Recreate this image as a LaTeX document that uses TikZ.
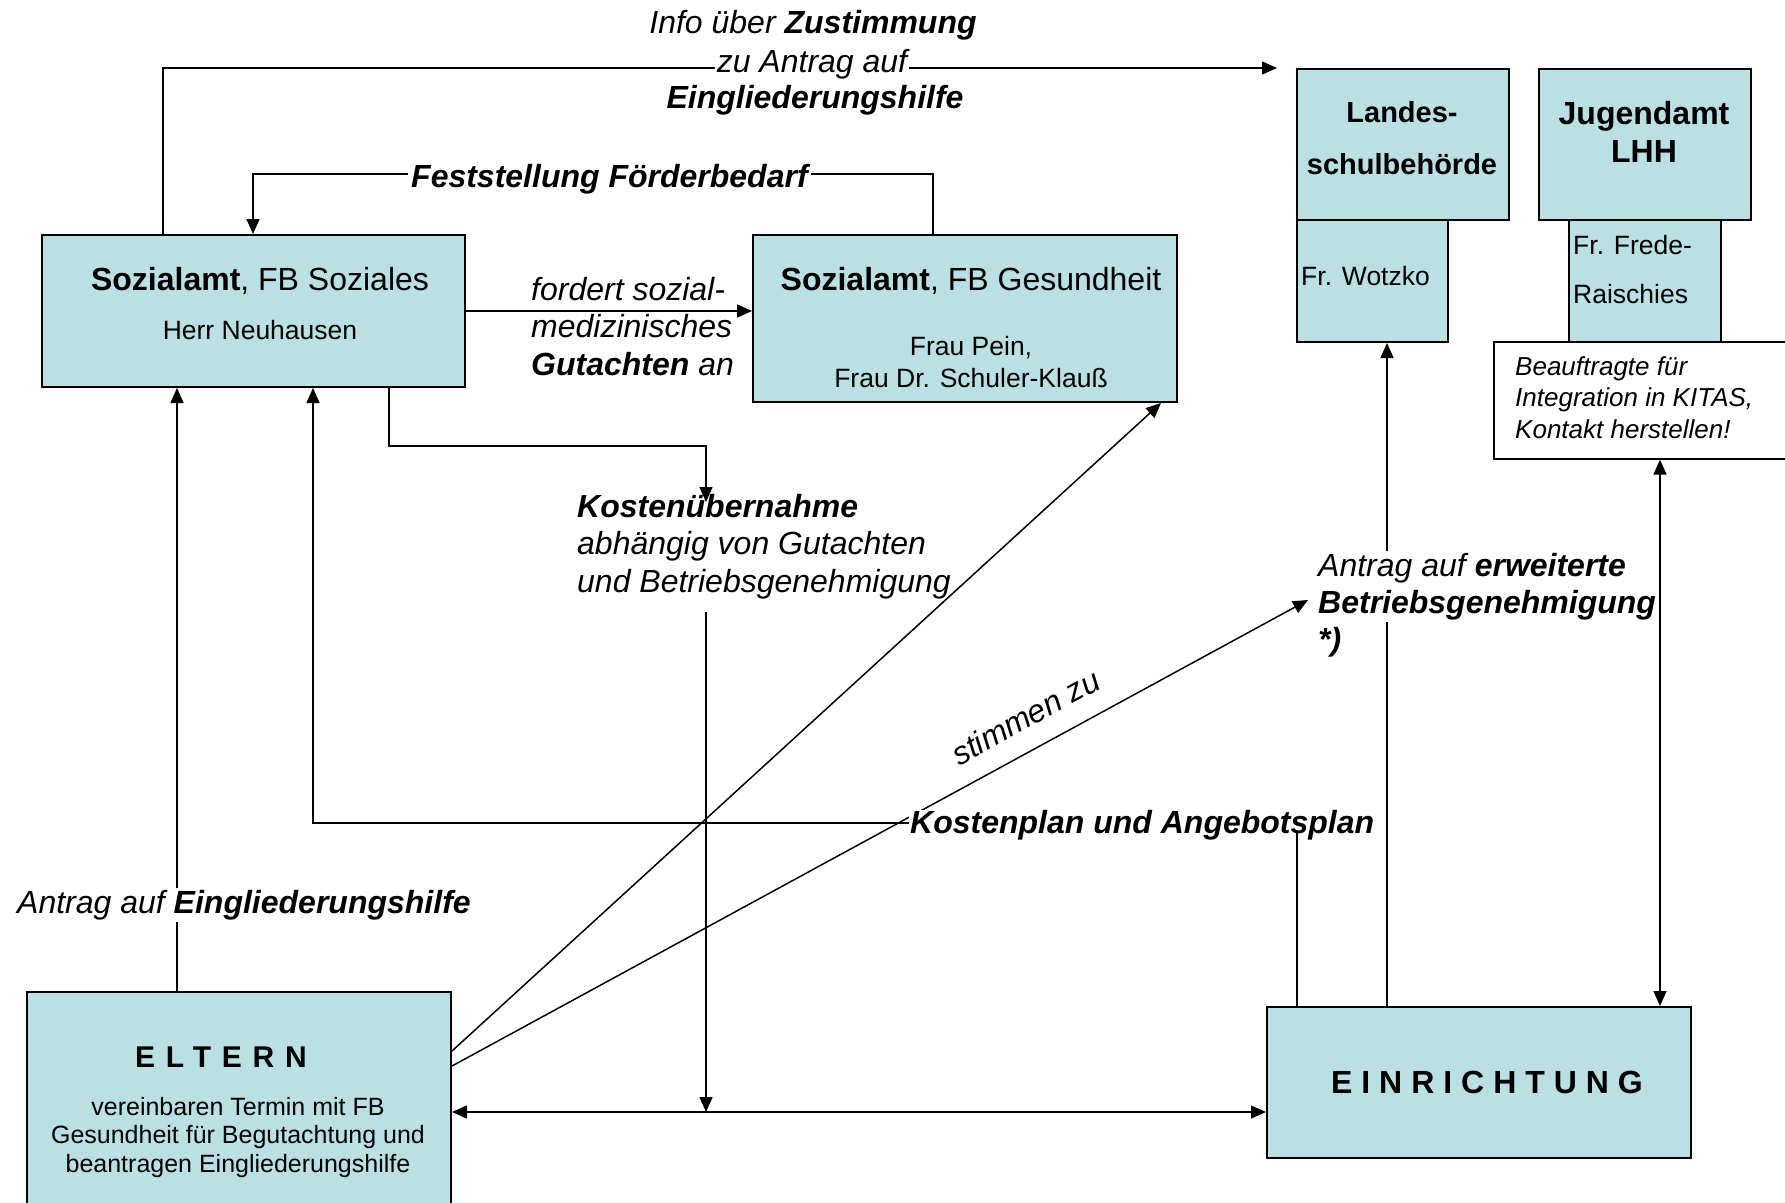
\documentclass[tikz,border=0pt]{standalone}
\usepackage{fontspec}
\setmainfont{Liberation Sans}
\usetikzlibrary{arrows.meta}
\definecolor{boxfill}{HTML}{BAE0E3}
\newcommand\myfs[2]{\fontsize{#1pt}{#2pt}\selectfont}
\begin{document}
\begin{tikzpicture}[x=1pt,y=-1pt,
  box/.style={draw=black, line width=2pt, fill=boxfill, inner sep=0pt, anchor=north west},
  wbox/.style={draw=black, line width=1.6pt, fill=white, inner sep=0pt, anchor=north west},
  conn/.style={line width=1.5pt},
  tip/.style={-{Triangle[length=15pt,width=13pt]}},
  dtip/.style={{Triangle[length=15pt,width=13pt]}-{Triangle[length=15pt,width=13pt]}},
  txt/.style={inner sep=0pt, anchor=base west, align=left},
  ctxt/.style={inner sep=0pt, anchor=base, align=center},
  big/.style={font=\myfs{32}{37.5}},
  med/.style={font=\myfs{26.5}{32}},
  itbig/.style={font=\itshape\myfs{32}{37.5}},
  wfill/.style={fill=white}
]
\useasboundingbox (0,0) rectangle (1785,1202);

% ---------- boxes ----------
\node[box, minimum width=423pt, minimum height=152pt] (sozial) at (41,234) {};
\node[box, minimum width=424pt, minimum height=167pt] (gesund) at (752,234) {};
\node[box, minimum width=212pt, minimum height=151pt] (landes) at (1296,68) {};
\node[box, minimum width=151pt, minimum height=122pt] (landes2) at (1296,219) {};
\node[box, minimum width=212pt, minimum height=151pt] (jugend) at (1538,68) {};
\node[box, minimum width=152pt, minimum height=122pt] (jugend2) at (1568,219) {};
\node[wbox, minimum width=300pt, minimum height=117pt] (beauf) at (1493,341) {};
\node[box, minimum width=424pt, minimum height=214pt] (eltern) at (26,991) {};
\node[box, minimum width=424pt, minimum height=151pt] (einr) at (1266,1006) {};

% ---------- box texts (multi-line nodes are anchored at their last baseline) ----------
\node[ctxt, big] (sozialT) at (260,290) {\textbf{Sozialamt}, FB Soziales};
\node[ctxt, med] (sozialP) at (260,339) {Herr Neuhausen};
\node[ctxt, big] (gesundT) at (971,290) {\textbf{Sozialamt}, FB Gesundheit};
\node[ctxt, med] (gesundP) at (971,387) {Frau Pein,\\Frau Dr. Schuler-Klauß};
\node[ctxt, font=\bfseries\myfs{29}{52}] (landesT) at (1402,174) {Landes-\\schulbehörde};
\node[txt, med] (landesP) at (1301,285) {Fr. Wotzko};
\node[ctxt, font=\bfseries\myfs{32}{38}] (jugendT) at (1644,162) {Jugendamt\\LHH};
\node[txt, font=\myfs{26.5}{49}] (jugendP) at (1573,303) {Fr. Frede-\\Raischies};
\node[txt, font=\itshape\myfs{26}{31.5}] (beaufT) at (1515,438) {Beauftragte für\\Integration in KITAS,\\Kontakt herstellen!};
\node[ctxt, font=\bfseries\myfs{30}{36}\addfontfeature{LetterSpace=36}] (elternT) at (221,1067) {ELTERN};
\node[ctxt, font=\myfs{25}{28.5}] (elternP) at (238,1172) {vereinbaren Termin mit FB\\Gesundheit für Begutachtung und\\beantragen Eingliederungshilfe};
\node[ctxt, font=\bfseries\myfs{32}{38}\addfontfeature{LetterSpace=28}] (einrT) at (1487,1093) {EINRICHTUNG};

% ---------- helper coordinates ----------
\coordinate (toptip) at (1277,68);
\coordinate (xtop) at (163,68);
\coordinate (f1) at (253,174);
\coordinate (f2) at (933,174);
\coordinate (k1) at (389,446);
\coordinate (k2) at (706,446);
\coordinate (k3) at (706,502);
\coordinate (k4) at (706,612);
\coordinate (bot) at (706,1112);
\coordinate (xa) at (177,0);
\coordinate (p1) at (1297,823);
\coordinate (p2) at (313,823);
\coordinate (xl) at (1387,0);
\coordinate (xj) at (1660,0);
\coordinate (a2tip) at (1308,600);

% ---------- connectors ----------
\draw[conn,tip] (sozial.north -| xtop) -- (xtop) -- (toptip);
\draw[conn,tip] (gesund.north -| f2) -- (f2) -- (f1) -- (sozial.north -| f1);
\draw[conn,tip] (sozial.east) -- (sozial.east -| gesund.west);
\draw[conn,tip] (sozial.south -| k1) -- (k1) -- (k2) -- (k3);
\draw[conn,tip] (k4) -- (bot);
\draw[conn,dtip] (eltern.east |- bot) -- (einr.west |- bot);
\draw[conn,tip] (eltern.north -| xa) -- (sozial.south -| xa);
\draw[conn,tip] (einr.north -| p1) -- (p1) -- (p2) -- (sozial.south -| p2);
\draw[conn,tip] ([yshift=-60pt]eltern.north east) -- ([xshift=-17pt]gesund.south east);
\draw[conn,tip] ([yshift=-75pt]eltern.north east) --
   node[sloped, pos=0.688, anchor=south, inner sep=0pt, yshift=20pt, font=\itshape\myfs{32}{38}] (stimmen) {stimmen zu} (a2tip);
\draw[conn,tip] (einr.north -| xl) -- (landes2.south -| xl);
\draw[conn,dtip] (einr.north -| xj) -- (beauf.south -| xj);

% ---------- connector labels ----------
\node[ctxt, itbig] (info1) at (813,33) {Info über \textbf{Zustimmung}};
\node[ctxt, itbig, wfill, inner sep=2pt] (info2) at (812,72) {zu Antrag auf};
\node[ctxt, itbig] (info3) at (815,108) {\textbf{Eingliederungshilfe}};
\node[txt, itbig, wfill, inner sep=3pt] (fest) at (408,187) {\textbf{Feststellung Förderbedarf}};
\node[txt, itbig] (fordert) at (531,375) {fordert sozial-\\medizinisches\\\textbf{Gutachten} an};
\node[txt, itbig] (kosten) at (577,592) {\textbf{Kostenübernahme}\\abhängig von Gutachten\\und Betriebsgenehmigung};
\node[txt, itbig, wfill, inner sep=2pt] (antragE) at (15,913) {Antrag auf \textbf{Eingliederungshilfe}};
\node[txt, font=\itshape\myfs{32}{36.5}, wfill, inner sep=2pt] (antragB) at (1316,613) {Antrag auf \textbf{erweiterte}\\\textbf{Betriebsgenehmigung}};
\node[txt, itbig] (stern) at (1318,650) {\textbf{*)}};
\node[txt, itbig, wfill, inner xsep=1pt, inner ysep=0pt, text depth=0pt] (kplan) at (909,833) {\textbf{Kostenplan und Angebotsplan}};
\end{tikzpicture}
\end{document}
